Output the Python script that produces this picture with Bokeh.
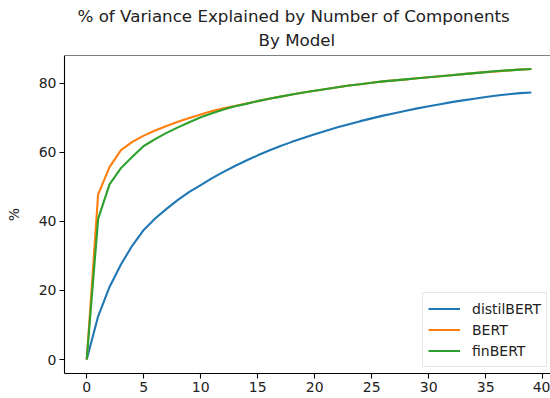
from bokeh.plotting import figure
from bokeh.models import Span, Legend, LegendItem, FixedTicker, Range1d, Title
from bokeh.embed import file_html
from bokeh.resources import INLINE

components = list(range(40))

distilbert = [0, 12.5, 21.0, 27.5, 33.0, 37.5, 40.8, 43.6, 46.2, 48.5, 50.5, 52.5, 54.3, 56.0, 57.6,
              59.1, 60.5, 61.8, 63.0, 64.1, 65.2, 66.2, 67.2, 68.1, 69.0, 69.8, 70.6, 71.3, 72.0, 72.7,
              73.3, 73.9, 74.5, 75.0, 75.5, 76.0, 76.4, 76.8, 77.1, 77.3]
bert = [0, 47.8, 55.7, 60.6, 63.0, 64.8, 66.3, 67.6, 68.8, 69.9, 70.9, 71.9, 72.7, 73.4, 74.1,
        74.8, 75.5, 76.1, 76.7, 77.3, 77.8, 78.3, 78.8, 79.3, 79.7, 80.1, 80.5, 80.8, 81.1, 81.4,
        81.7, 82.0, 82.3, 82.6, 82.9, 83.2, 83.4, 83.7, 83.9, 84.1]
finbert = [0, 40.7, 50.7, 55.4, 58.7, 61.8, 63.8, 65.6, 67.2, 68.7, 70.1, 71.3, 72.4, 73.3, 74.0,
           74.8, 75.5, 76.1, 76.7, 77.3, 77.8, 78.3, 78.8, 79.3, 79.7, 80.1, 80.5, 80.8, 81.1, 81.4,
           81.7, 82.0, 82.3, 82.6, 82.9, 83.2, 83.5, 83.7, 83.9, 84.1]

series_names = ["distilBERT", "BERT", "finBERT"]
series_colors = ["#1f77b4", "#ff7f0e", "#2ca02c"]
x_ticks = [0, 5, 10, 15, 20, 25, 30, 35, 40]
y_ticks = [0, 20, 40, 60, 80]
title_lines = ["% of Variance Explained by Number of Components", "By Model"]

FONT = "DejaVu Sans"

p = figure(frame_width=486, frame_height=318, min_border_left=64, min_border_right=0,
           min_border_top=55, min_border_bottom=25, output_backend="svg",
           toolbar_location=None, x_range=Range1d(-1.95, 40.68), y_range=Range1d(-4.05, 88.0),
           title=title_lines[0])
p.outline_line_color = None
p.xgrid.visible = False
p.ygrid.visible = False
p.background_fill_color = "white"
p.border_fill_color = "white"


def style_title(t, offset, standoff):
    t.align = "left"
    t.offset = offset
    t.text_font = FONT
    t.text_font_size = "16.7px"
    t.text_font_style = "normal"
    t.text_color = "#222222"
    t.standoff = standoff


style_title(p.title, 13, -6)
t2 = Title(text=title_lines[1])
style_title(t2, 194, 11)
p.add_layout(t2, "above")

renderers = []
for name, vals, col in zip(series_names, [distilbert, bert, finbert], series_colors):
    r = p.line(components, vals, line_color=col, line_width=2.1)
    renderers.append((name, r))

for ax in (p.xaxis[0], p.yaxis[0]):
    ax.axis_line_color = "black"
    ax.axis_line_width = 1.1
    ax.major_tick_line_color = "black"
    ax.major_tick_line_width = 1.1
    ax.major_tick_out = 5
    ax.major_tick_in = 0
    ax.minor_tick_line_color = None
    ax.major_label_text_font = FONT
    ax.major_label_text_font_size = "14px"
    ax.major_label_text_color = "#222222"
    ax.major_label_standoff = 3

p.xaxis.ticker = FixedTicker(ticks=x_ticks)
p.yaxis.ticker = FixedTicker(ticks=y_ticks)
p.yaxis.axis_label = "%"
p.yaxis.axis_label_text_font = FONT
p.yaxis.axis_label_text_font_size = "14px"
p.yaxis.axis_label_text_font_style = "normal"
p.yaxis.axis_label_text_color = "#222222"
p.yaxis.axis_label_standoff = 14

top_span = Span(location=88.0, dimension="width", line_color="black", line_width=1.1)
p.add_layout(top_span)

legend = Legend(items=[LegendItem(label=n, renderers=[r]) for n, r in renderers],
                location=(358, 6))
legend.label_text_font = FONT
legend.label_text_font_size = "14px"
legend.label_text_color = "#222222"
legend.glyph_width = 32
legend.glyph_height = 21
legend.label_height = 21
legend.label_standoff = 12
legend.spacing = 0
legend.padding = 5
legend.margin = 0
legend.border_line_color = "#d0d0d0"
legend.border_line_width = 1
legend.background_fill_alpha = 0.8
p.add_layout(legend)

open("out.html", "w").write(file_html(p, INLINE))
